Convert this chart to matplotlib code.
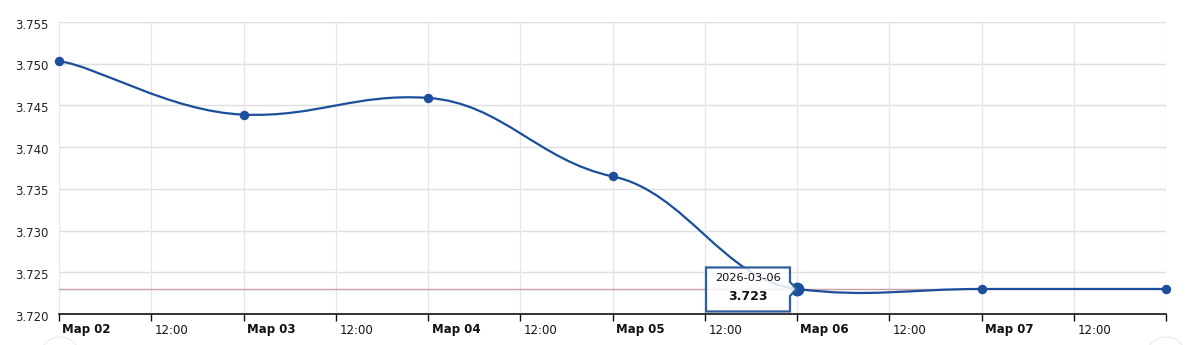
import numpy as np
import matplotlib
matplotlib.use("Agg")
import matplotlib.pyplot as plt
import matplotlib.dates as mdates
import matplotlib.transforms as mtransforms
from matplotlib.path import Path
from matplotlib.patches import PathPatch, Polygon, Circle
import datetime as dt

plt.rcParams['font.family'] = ['DejaVu Sans']

# ---- data ----
dates = ["2026-03-02", "2026-03-03", "2026-03-04", "2026-03-05",
         "2026-03-06", "2026-03-07", "2026-03-08"]
values = [3.7503, 3.7439, 3.7459, 3.7365, 3.7230, 3.7230, 3.7230]
hover_index = 4
tooltip_date = "2026-03-06"
tooltip_value = "3.723"
y_ticks = [3.720, 3.725, 3.730, 3.735, 3.740, 3.745, 3.750, 3.755]
day_labels = ["Мар 02", "Мар 03", "Мар 04", "Мар 05", "Мар 06", "Мар 07"]
half_label = "12:00"

line_color = "#1b4f9c"
tension_x = 0.8
tension_y = 0.92

x = mdates.date2num([dt.datetime.strptime(d, "%Y-%m-%d") for d in dates])
y = np.array(values)

fig = plt.figure(figsize=(11.86, 3.45), dpi=100)
ax = fig.add_axes([59/1186, 1-314/345, (1166-59)/1186, (314-22)/345])

ax.set_xlim(x[0], x[-1])
ax.set_ylim(y_ticks[0], y_ticks[-1])


def tension_path(xs, ys, tx, ty):
    """Cardinal-type cubic smoothing (separate x / y tension)."""
    ax_ = 1 - tx + 1e-5
    ay_ = 1 - ty + 1e-5
    n = len(xs)
    verts = [(xs[0], ys[0])]
    codes = [Path.MOVETO]
    for i in range(n - 1):
        i0 = max(i - 1, 0)
        i3 = min(i + 2, n - 1)
        p0 = (xs[i0], ys[i0]); p1 = (xs[i], ys[i])
        p2 = (xs[i + 1], ys[i + 1]); p3 = (xs[i3], ys[i3])
        ca = (p1[0] + (p2[0] - p0[0]) * ax_, p1[1] + (p2[1] - p0[1]) * ay_)
        cb = (p2[0] - (p3[0] - p1[0]) * ax_, p2[1] - (p3[1] - p1[1]) * ay_)
        verts += [ca, cb, p2]
        codes += [Path.CURVE4] * 3
    return Path(verts, codes)


# grid
for t in y_ticks:
    ax.axhline(t, color="#dedede", lw=1, zorder=0)
halfdays = np.arange(x[0], x[-1] + 0.01, 0.5)
for t in halfdays:
    ax.axvline(t, color="#e6e6e6", lw=1, zorder=0)

# cursor line
ax.axhline(y[hover_index], color="#c9a0a0", lw=1, zorder=1)

ax.add_patch(PathPatch(tension_path(x, y, tension_x, tension_y), fill=False,
                       edgecolor=line_color, lw=1.6, zorder=3, capstyle='round'))
ax.plot(x, y, 'o', color=line_color, ms=5.8, zorder=4, clip_on=False)
ax.plot([x[hover_index]], [y[hover_index]], 'o', color=line_color, ms=9,
        zorder=5, clip_on=False)

# axes styling
for s in ["left", "right", "top"]:
    ax.spines[s].set_visible(False)
ax.spines["bottom"].set_color("#111")
ax.spines["bottom"].set_linewidth(1.2)
ax.set_yticks(y_ticks)
ax.set_yticklabels([f"{t:.3f}" for t in y_ticks], fontsize=8.5, color="#222")
ax.tick_params(axis='y', length=0, pad=7.5)
for lab in ax.get_yticklabels():
    lab.set_transform(lab.get_transform() + mtransforms.Affine2D().translate(0, -1.5))
ax.set_xticks(halfdays)
ax.set_xticklabels([])
ax.tick_params(axis='x', length=5, width=1, color="#111", direction='out')

labels = []
for i, t in enumerate(halfdays[:-1]):
    if i % 2 == 0:
        labels.append((t, day_labels[i // 2], 'bold'))
    else:
        labels.append((t, half_label, 'normal'))
off = mtransforms.offset_copy(ax.get_xaxis_transform(), fig=fig, x=3.5, y=0, units='dots')
for t, lab, w in labels:
    ax.text(t, -16/292, lab, transform=off, ha='left', va='center',
            fontsize=8.5, fontweight=w, color="#111")

# scrollbar grips (faint, partially visible)
for gx in (60/1186, 1166/1186):
    fig.patches.append(Circle((gx * 1186, -12), 20, transform=mtransforms.IdentityTransform(),
                              facecolor="none", edgecolor="#ececec", lw=1))

# tooltip
trans = fig.dpi_scale_trans + mtransforms.ScaledTranslation(
    x[hover_index], y[hover_index], ax.transData)
poly = [(-0.91, 0.215), (-0.07, 0.215), (-0.07, 0.07), (-0.005, 0.0),
        (-0.07, -0.07), (-0.07, -0.225), (-0.91, -0.225)]
ax.add_patch(Polygon(poly, closed=True, transform=trans, facecolor=(1, 1, 1, 0.85),
                     edgecolor="#2f5e9e", lw=1.6, zorder=6, clip_on=False))
ax.text(-0.49, 0.11, tooltip_date, transform=trans, ha='center', va='center',
        fontsize=8.2, color="#111", zorder=7)
ax.text(-0.49, -0.08, tooltip_value, transform=trans, ha='center', va='center',
        fontsize=9, fontweight='bold', color="#111", zorder=7)

fig.savefig("out.png", dpi=100)
